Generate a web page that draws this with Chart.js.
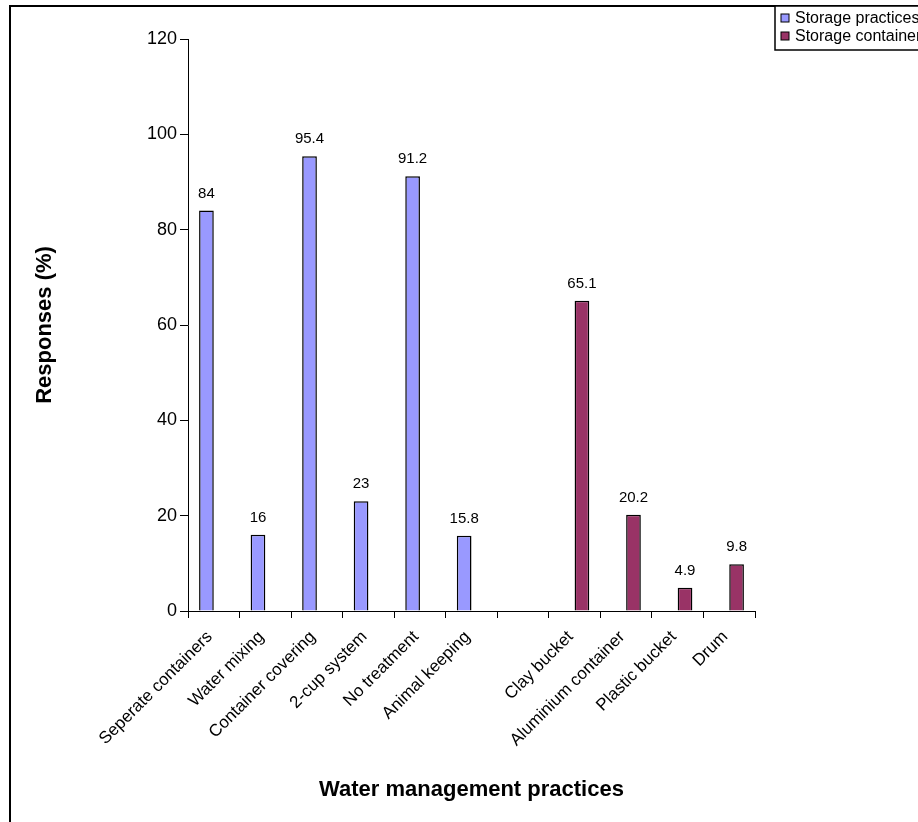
<!DOCTYPE html>
<html>
<head>
<meta charset="utf-8">
<script src="https://cdn.jsdelivr.net/npm/chart.js@4.4.1/dist/chart.umd.min.js"></script>
<style>
  html, body { margin: 0; padding: 0; background: #fff; }
  #wrap { width: 918px; height: 822px; }
</style>
</head>
<body>
<div id="wrap"><canvas id="c" width="918" height="822"></canvas></div>
<script>
// Categories (one blank slot separates practices from containers)
const categories = [
  "Seperate containers", "Water mixing", "Container covering", "2-cup system",
  "No treatment", "Animal keeping", "", "Clay bucket", "Aluminium container",
  "Plastic bucket", "Drum"
];
// Percentage of responses per series
const storagePractices  = [84, 16, 95.4, 23, 91.2, 15.8, null, null, null, null, null];
const storageContainers = [null, null, null, null, null, null, null, 65.1, 20.2, 4.9, 9.8];
const seriesNames = ["Storage practices", "Storage containers"];
const yTicks = [0, 20, 40, 60, 80, 100, 120];

const FONT = "'Liberation Sans', Arial, sans-serif";

// White page background
const bgPlugin = {
  id: 'bg',
  beforeDraw(chart) {
    const ctx = chart.ctx;
    ctx.save();
    ctx.fillStyle = '#fff';
    ctx.fillRect(0, 0, chart.width, chart.height);
    ctx.restore();
  }
};

// Value labels above each bar
const valueLabels = {
  id: 'valueLabels',
  afterDatasetsDraw(chart) {
    const ctx = chart.ctx;
    ctx.save();
    ctx.font = "15px " + FONT;
    ctx.fillStyle = '#000';
    ctx.textAlign = 'center';
    ctx.textBaseline = 'alphabetic';
    chart.data.datasets.forEach((ds, i) => {
      const meta = chart.getDatasetMeta(i);
      meta.data.forEach((el, j) => {
        const v = ds.data[j];
        if (v === null || v === undefined) return;
        ctx.fillText(String(v), el.x, el.y - 13);
      });
    });
    ctx.restore();
  }
};

// Outer frame and boxed legend in the top-right corner
const frameLegend = {
  id: 'frameLegend',
  afterDraw(chart) {
    const ctx = chart.ctx;
    ctx.save();
    ctx.strokeStyle = '#000';
    ctx.lineWidth = 2;
    ctx.strokeRect(10, 6, 1000, 1000);

    const bx = 775, by = 6, rowH = 18;
    const n = chart.data.datasets.length;
    ctx.fillStyle = '#fff';
    ctx.fillRect(bx, by, 300, n * rowH + 8);
    ctx.lineWidth = 1.5;
    ctx.strokeRect(bx, by, 300, n * rowH + 8);

    ctx.font = "16px " + FONT;
    ctx.textBaseline = 'middle';
    ctx.textAlign = 'left';
    chart.data.datasets.forEach((ds, i) => {
      const cy = by + 12 + i * rowH;
      ctx.fillStyle = ds.backgroundColor;
      ctx.fillRect(bx + 6, cy - 4, 8, 8);
      ctx.lineWidth = 1;
      ctx.strokeStyle = '#000';
      ctx.strokeRect(bx + 6, cy - 4, 8, 8);
      ctx.fillStyle = '#000';
      ctx.fillText(ds.label, bx + 20, cy + 1);
    });
    ctx.restore();
  }
};

new Chart(document.getElementById('c'), {
  type: 'bar',
  data: {
    labels: categories,
    datasets: [
      {
        label: seriesNames[0],
        data: storagePractices,
        backgroundColor: '#9999ff',
        borderColor: '#000',
        borderWidth: 1.5
      },
      {
        label: seriesNames[1],
        data: storageContainers,
        backgroundColor: '#993366',
        borderColor: '#000',
        borderWidth: 1.5
      }
    ]
  },
  options: {
    responsive: false,
    animation: false,
    devicePixelRatio: 1,
    layout: { padding: { left: 10, top: 39, right: 163, bottom: 0 } },
    datasets: { bar: { categoryPercentage: 0.57, barPercentage: 1 } },
    plugins: {
      legend: { display: false },
      tooltip: { enabled: false }
    },
    scales: {
      x: {
        grid: {
          display: true,
          drawOnChartArea: false,
          drawTicks: true,
          tickLength: 7,
          color: '#000',
          offset: true
        },
        border: { display: true, color: '#000', width: 1 },
        ticks: {
          color: '#000',
          font: { family: FONT, size: 17 },
          minRotation: 45,
          maxRotation: 45,
          autoSkip: false,
          padding: 9,
          labelOffset: -4
        },
        title: {
          display: true,
          text: 'Water management practices',
          color: '#000',
          font: { family: FONT, size: 22, weight: 'bold' },
          padding: { top: 0, bottom: 19 }
        },
        afterFit(scale) { scale.height = 211; }
      },
      y: {
        min: 0,
        max: 120,
        afterBuildTicks(scale) { scale.ticks = yTicks.map(v => ({ value: v })); },
        grid: {
          display: true,
          drawOnChartArea: false,
          drawTicks: true,
          tickLength: 8,
          color: '#000'
        },
        border: { display: true, color: '#000', width: 1 },
        ticks: {
          color: '#000',
          font: { family: FONT, size: 18 },
          padding: 3
        },
        title: {
          display: true,
          text: 'Responses (%)',
          color: '#000',
          font: { family: FONT, size: 22, weight: 'bold' },
          padding: { top: 22, bottom: 0 }
        },
        afterFit(scale) { scale.width = 178; }
      }
    }
  },
  plugins: [bgPlugin, valueLabels, frameLegend]
});
</script>
</body>
</html>
